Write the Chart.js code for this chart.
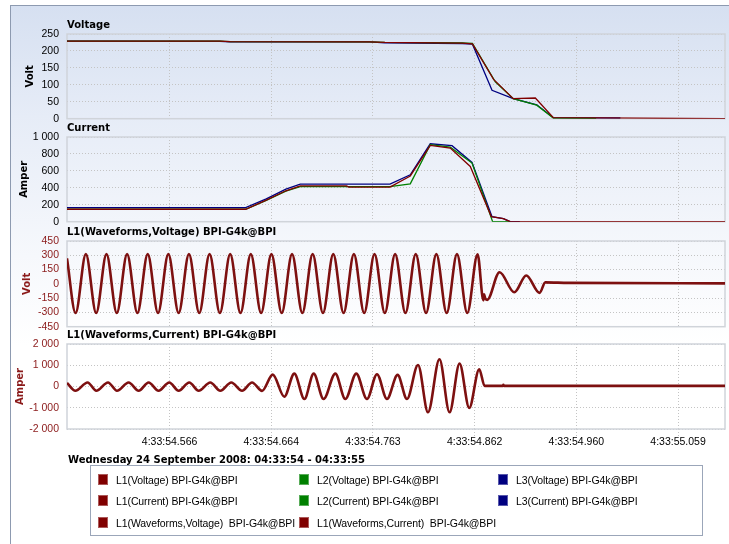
<!DOCTYPE html>
<html>
<head>
<meta charset="utf-8">
<script src="https://cdn.jsdelivr.net/npm/chart.js@4.4.0/dist/chart.umd.min.js"></script>
<style>
  body { margin: 0; width: 729px; height: 544px; overflow: hidden; background: #fff; position: relative; }
  #marco { position: absolute; left: 10px; top: 5px; width: 740px; height: 560px;
    border-left: 1px solid #8d9ab0; border-top: 1px solid #8d9ab0;
    background: linear-gradient(to bottom, #d6e0f1 0px, #e6ecf7 110px, #f6f8fc 250px, #ffffff 340px); }
  canvas { position: absolute; left: 0; }
  #fecha { position: absolute; left: 68px; top: 454px; font: bold 10px 'DejaVu Sans', sans-serif; color: #000; white-space: pre; }
  #leyenda { position: absolute; left: 90px; top: 465px; width: 613px; height: 71px; border: 1px solid #9ba6b9; box-sizing: border-box; }
  .item { position: absolute; font: 10.5px 'Liberation Sans', Arial, sans-serif; letter-spacing: -0.1px; color: #000; height: 12px; line-height: 12px; white-space: pre; padding-left: 18px; }
  .item i { position: absolute; left: 0; top: 0; width: 10px; height: 11px; box-sizing: border-box; border: 1px solid rgba(255,255,255,0.35); }
</style>
</head>
<body>
<div id="marco"></div>
<canvas id="c1"></canvas>
<canvas id="c2"></canvas>
<canvas id="c3"></canvas>
<canvas id="c4"></canvas>
<div id="fecha">Wednesday 24 September 2008: 04:33:54 - 04:33:55</div>
<div id="leyenda"></div>
<script>
// Eje de tiempo (ms desde 4:33:54.000)
const X_MIN = 466.7;
const X_MAX = 1105;
const xTicks = [566.2, 664.85, 763.5, 862.15, 960.8, 1059.45];
const xTickLabels = ['4:33:54.566', '4:33:54.664', '4:33:54.763', '4:33:54.862', '4:33:54.960', '4:33:55.059'];

// Voltaje RMS [t, V]
const voltL1 = [[466.7, 229], [615, 229], [625, 227.5], [760, 227], [775, 225], [850, 223], [860, 221], [880.5, 116], [899.6, 59], [921, 61], [938.5, 3], [1105, 0]];
const voltL2 = [[466.7, 229], [615, 229], [625, 227.5], [760, 227], [775, 225], [850, 224], [860, 222], [882.2, 109], [899.6, 59], [922.4, 40], [938.5, 2], [980, 1]];
const voltL3 = [[466.7, 229], [615, 228.5], [625, 227], [760, 226.5], [775, 224], [850, 222], [860, 220], [879, 84], [899.6, 59], [922.4, 41], [938.5, 3], [1003.5, 2]];

// Corriente RMS [t, A]
const currL1 = [[466.7, 147], [640, 147], [660, 255], [679, 365], [693, 423], [738, 423], [740, 408], [780, 408], [799.7, 540], [819.1, 900], [838.5, 870], [857.9, 652], [878.3, 60], [890, 36], [896.6, 0], [1105, 0]];
const currL2 = [[466.7, 147], [640, 147], [660, 250], [679, 360], [693, 415], [780, 415], [799.7, 447], [819.1, 909], [838.5, 880], [859.6, 692], [879.6, 0], [896.6, 0]];
const currL3 = [[466.7, 166], [640, 166], [660, 270], [679, 385], [693, 443], [780, 443], [799.7, 553], [819.1, 920], [840.2, 897], [859.6, 700], [879, 60], [890, 36], [896.6, 0], [906, 0]];

// Forma de onda de tension L1 (picos y valles) [t, V]
const waveVolt = [[466.7, 268], [475, -306], [485, 312], [495, -306], [505, 312], [515, -306], [525, 312], [535, -306], [545, 312],
  [555, -306], [565, 312], [575, -306], [585, 312], [595, -306], [605, 312], [615, -306], [625, 312], [635, -306], [645, 312],
  [655, -306], [665, 312], [675, -306], [685, 312], [695, -306], [705, 312], [715, -306], [725, 312], [735, -306], [745, 312],
  [755, -306], [765, 312], [775, -306], [785, 312], [795, -306], [805, 312], [815, -306], [825, 312], [835, -306], [845, 312],
  [855, -306], [865, 310], [870.6, -172], [871.3, -110], [872.3, -150], [874.3, -168], [886.3, 122], [900.6, -89], [912.2, 88],
  [925.1, -95], [930.7, 15], [953, 10], [1105, 5]];

// Forma de onda de corriente L1 (picos y valles) [t, A]
const waveCurr = [[466.7, 170], [474.8, -200], [486.7, 190], [495.1, -200], [506.5, 190], [515.2, -200], [526.5, 190], [536.2, -200],
  [545.9, 190], [555.5, -200], [565.9, 190], [575, -200], [585.3, 190], [594.4, -200], [605.7, 190], [615.4, -200], [626.1, 190],
  [636.5, -200], [646.2, 190], [655.9, -205], [666.3, 560], [677.5, -481], [687.2, 607], [697, -589], [706, 607], [715.6, -589],
  [727, 607], [736.7, -589], [747.3, 607], [757.7, -589], [767.4, 580], [777.1, -589], [787.4, 547], [796.5, -589], [807.2, 1014],
  [816.9, -1215], [828, 1280], [837.8, -1215], [847.5, 1075], [856.9, -1009], [866.6, 813], [871.8, 30], [889.5, 30], [890, 80],
  [890.5, 30], [1105, 30]];

// Leyenda
const legendLabels = ['L1(Voltage) BPI-G4k@BPI', 'L2(Voltage) BPI-G4k@BPI', 'L3(Voltage) BPI-G4k@BPI',
  'L1(Current) BPI-G4k@BPI', 'L2(Current) BPI-G4k@BPI', 'L3(Current) BPI-G4k@BPI',
  'L1(Waveforms,Voltage)  BPI-G4k@BPI', 'L1(Waveforms,Current)  BPI-G4k@BPI'];
const legendColors = ['#800000', '#008000', '#000080', '#800000', '#008000', '#000080', '#800000', '#800000'];

const C_L1 = '#800000';
const C_L2 = '#008000';
const C_L3 = '#000080';
const C_WAVE = '#7d1010';
const GRID = '#c4c4c4';

Chart.defaults.font.family = "'Liberation Sans', Arial, sans-serif";
Chart.defaults.font.size = 10.5;

// Separador de miles con espacio
function fmt(v) {
  return String(v).replace(/\B(?=(\d{3})+(?!\d))/g, ' ');
}

function serie(points, color, width, smooth) {
  return {
    data: points.map(p => ({ x: p[0], y: p[1] })),
    borderColor: color,
    borderWidth: width,
    pointRadius: 0,
    tension: 0,
    cubicInterpolationMode: smooth ? 'monotone' : 'default',
    fill: false
  };
}

// Marco gris del area de dibujo
const marcoPlugin = {
  id: 'marco',
  beforeDatasetsDraw(chart) {
    const { ctx, chartArea: a } = chart;
    ctx.save();
    ctx.strokeStyle = '#d0d4da';
    ctx.lineWidth = 1.5;
    ctx.strokeRect(a.left, a.top, a.width, a.height);
    ctx.restore();
  }
};

function xAxis(showLabels) {
  return {
    type: 'linear',
    min: X_MIN,
    max: X_MAX,
    afterBuildTicks: s => { s.ticks = xTicks.map(v => ({ value: v })); },
    afterFit: s => { s.height = showLabels ? 30 : 8; },
    grid: { color: GRID, drawTicks: showLabels, tickLength: 7, tickColor: GRID, tickBorderDash: [1, 2] },
    border: { display: false, dash: [1, 2] },
    ticks: {
      display: showLabels,
      autoSkip: false,
      maxRotation: 0,
      padding: 0,
      color: '#000',
      callback: (v, i) => xTickLabels[i]
    }
  };
}

function yAxis(min, max, step, title, color, titlePad) {
  return {
    min: min,
    max: max,
    afterFit: s => { s.width = 67; },
    ticks: { stepSize: step, autoSkip: false, padding: 8, color: color, callback: v => fmt(v) },
    grid: { color: GRID, drawTicks: false },
    border: { display: false, dash: [1, 2] },
    title: {
      display: true,
      text: title,
      color: color,
      font: { family: "'DejaVu Sans', sans-serif", size: 10, weight: 'bold' },
      padding: { top: titlePad, bottom: 0 }
    }
  };
}

const paneles = [
  { id: 'c1', top: 16, h: 117, titulo: 'Voltage', y: yAxis(0, 250, 50, 'Volt', '#000', 24), labels: false,
    datasets: [serie(voltL1, C_L1, 1.3), serie(voltL2, C_L2, 1.3), serie(voltL3, C_L3, 1.3)] },
  { id: 'c2', top: 119, h: 117, titulo: 'Current', y: yAxis(0, 1000, 200, 'Amper', '#000', 18), labels: false,
    datasets: [serie(currL1, C_L1, 1.3), serie(currL2, C_L2, 1.3), serie(currL3, C_L3, 1.3)] },
  { id: 'c3', top: 223, h: 118, titulo: 'L1(Waveforms,Voltage) BPI-G4k@BPI', y: yAxis(-450, 450, 150, 'Volt', '#8b1a1a', 21), labels: false,
    datasets: [serie(waveVolt, C_WAVE, 2.6, true)] },
  { id: 'c4', top: 326, h: 133, titulo: 'L1(Waveforms,Current) BPI-G4k@BPI', y: yAxis(-2000, 2000, 1000, 'Amper', '#8b1a1a', 14), labels: true,
    datasets: [serie(waveCurr, C_WAVE, 2.6, true)] }
];

paneles.forEach(p => {
  const canvas = document.getElementById(p.id);
  canvas.width = 729;
  canvas.height = p.h;
  canvas.style.top = p.top + 'px';
  new Chart(canvas.getContext('2d'), {
    type: 'line',
    data: { datasets: p.datasets },
    options: {
      responsive: false,
      animation: false,
      events: [],
      layout: { padding: { top: 2, bottom: 0, left: 0, right: 4 } },
      scales: { x: xAxis(p.labels), y: p.y },
      plugins: {
        legend: { display: false },
        tooltip: { enabled: false },
        title: {
          display: true,
          text: p.titulo,
          align: 'start',
          fullSize: false,
          color: '#000',
          font: { family: "'DejaVu Sans', sans-serif", size: 10, weight: 'bold' },
          padding: { top: 1, bottom: 3 }
        }
      }
    },
    plugins: [marcoPlugin]
  });
});

// Leyenda en tres columnas
const leyenda = document.getElementById('leyenda');
const colX = [7, 208, 407];
const rowY = [8, 29, 51];
legendLabels.forEach((txt, i) => {
  const d = document.createElement('div');
  d.className = 'item';
  d.style.left = colX[i % 3] + 'px';
  d.style.top = rowY[Math.floor(i / 3)] + 'px';
  const sq = document.createElement('i');
  sq.style.background = legendColors[i];
  d.appendChild(sq);
  d.appendChild(document.createTextNode(txt));
  leyenda.appendChild(d);
});
</script>
</body>
</html>
